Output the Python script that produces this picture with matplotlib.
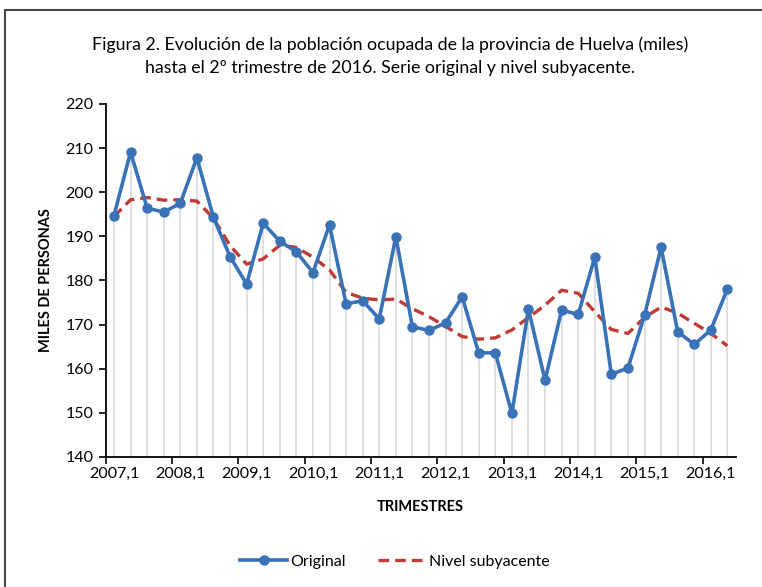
import matplotlib
matplotlib.use("Agg")
import matplotlib.pyplot as plt
from matplotlib.patches import Rectangle

plt.rcParams['font.family'] = ['Lato', 'DejaVu Sans']

quarters = [f"{y},{q}" for y in range(2007, 2017) for q in range(1, 5)][:38]
original = [194.7, 209.1, 196.4, 195.5, 197.5, 207.8, 194.3, 185.4, 179.2, 193.0,
            188.9, 186.5, 181.8, 192.6, 174.7, 175.4, 171.3, 189.9, 169.5, 168.7,
            170.4, 176.3, 163.6, 163.6, 149.9, 173.5, 157.4, 173.3, 172.3, 185.3,
            158.7, 160.2, 172.1, 187.5, 168.4, 165.5, 168.8, 178.1]
trend = [194.5, 198.3, 198.8, 198.2, 198.3, 198.0, 194.1, 187.9, 183.7, 184.9,
         188.0, 187.5, 185.3, 182.4, 177.3, 176.0, 175.6, 175.8, 173.6, 171.8,
         169.6, 167.3, 166.7, 167.0, 168.8, 171.6, 174.4, 177.8, 177.1, 172.9,
         168.9, 168.0, 171.6, 174.0, 172.6, 170.3, 168.0, 165.2]
yticks = list(range(140, 221, 10))

fig = plt.figure(figsize=(7.62, 5.87), dpi=100)
fig.patches.append(Rectangle((5/762, -0.1), 1.2, 1 - 10/587 + 0.1, transform=fig.transFigure,
                             fill=False, edgecolor='#444444', linewidth=1.5))
ax = fig.add_axes([105.7/762, 1 - 457/587, (735.7 - 105.7)/762, (457 - 104)/587])

x = list(range(len(original)))
ax.vlines(x, 140, original, colors='#D6D6D6', linewidth=1.1, zorder=1)
ax.plot(x, original, color='#3A72B8', linewidth=2.6, marker='o', markersize=6.5,
        label='Original', zorder=3)
ax.plot(x, trend, color='#BF3B35', linewidth=2.4, linestyle=(0, (3.2, 1.8)),
        label='Nivel subyacente', zorder=2)

ax.set_xlim(-0.5, 37.5)
ax.set_ylim(140, 220)
ax.set_yticks(yticks)
ax.set_yticklabels([str(v) for v in yticks], fontsize=11.5)
ax.set_xticks([i - 0.5 for i in range(0, 38, 4)])
ax.set_xticklabels([])
ax.set_xticks(list(range(0, 38, 4)), minor=True)
ax.set_xticklabels([quarters[i] for i in range(0, 38, 4)], minor=True, fontsize=11.5)
ax.tick_params(axis='x', which='minor', length=0, pad=7)
ax.tick_params(axis='x', which='major', length=5, width=1.2, direction='out')
ax.tick_params(axis='y', length=5, width=1.2, direction='out', pad=4)
for s in ['top', 'right']:
    ax.spines[s].set_visible(False)
for s in ['left', 'bottom']:
    ax.spines[s].set_linewidth(1.3)

ax.set_xlabel('TRIMESTRES', fontsize=10.5, fontweight='bold', labelpad=14)
ax.set_ylabel('MILES DE PERSONAS', fontsize=10.5, fontweight='bold', labelpad=9)

fig.text(0.512, 1 - 45/587, 'Figura 2. Evolución de la población ocupada de la provincia de Huelva (miles)',
         ha='center', va='center', fontsize=12.8)
fig.text(0.512, 1 - 68/587, 'hasta el 2º trimestre de 2016. Serie original y nivel subyacente.',
         ha='center', va='center', fontsize=12.8)

fig.legend(loc='center', bbox_to_anchor=(0.518, 1 - 562/587), ncol=2, frameon=False,
           fontsize=11.5, handlelength=3.0, handletextpad=0.2, columnspacing=2.0)

fig.savefig('out.png', dpi=100)
